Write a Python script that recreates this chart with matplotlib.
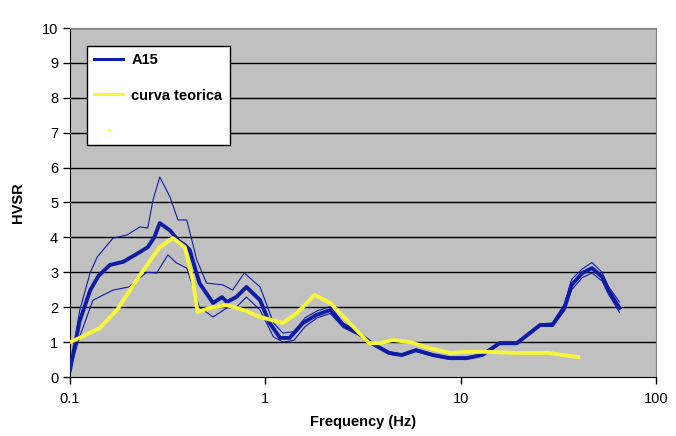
import matplotlib
matplotlib.use("Agg")
import matplotlib.pyplot as plt
from matplotlib.lines import Line2D
from matplotlib.ticker import FixedLocator, FixedFormatter, NullLocator

plt.rcParams['font.family'] = ['Liberation Sans', 'DejaVu Sans']

# curva media A15
f_media = [0.1, 0.112, 0.127, 0.14, 0.16, 0.187, 0.228, 0.25, 0.27, 0.288, 0.325, 0.36,
           0.387, 0.41, 0.46, 0.54, 0.6, 0.635, 0.71, 0.8, 0.94, 1.05, 1.19, 1.33, 1.56,
           1.83, 2.15, 2.5, 3.0, 3.5, 4.3, 5.0, 5.9, 7.2, 8.8, 10.7, 12.9, 15.8, 19.4,
           25.5, 29.5, 34, 37, 42, 47, 53, 57, 65]
hvsr_media = [0.2, 1.6, 2.49, 2.9, 3.21, 3.3, 3.58, 3.72, 4.0, 4.41, 4.2, 3.9,
              3.78, 3.64, 2.69, 2.12, 2.29, 2.15, 2.29, 2.58, 2.2, 1.55, 1.12, 1.12, 1.55,
              1.78, 1.92, 1.49, 1.25, 0.97, 0.69, 0.63, 0.77, 0.63, 0.54, 0.54, 0.63, 0.97, 0.97,
              1.49, 1.49, 1.98, 2.64, 2.98, 3.12, 2.87, 2.49, 1.98]

# limite superiore
f_sup = [0.1, 0.112, 0.127, 0.138, 0.166, 0.196, 0.228, 0.25, 0.266, 0.288, 0.325, 0.357,
         0.396, 0.446, 0.5, 0.606, 0.68, 0.78, 0.94, 1.1, 1.23, 1.4, 1.6, 1.85, 2.15, 2.5,
         3.0, 3.5, 4.3, 5.0, 5.9, 7.2, 8.8, 10.7, 12.9, 15.8, 19.4, 25.5, 29.5, 34, 37,
         42, 47, 53, 57, 65]
hvsr_sup = [0.2, 1.9, 3.0, 3.44, 3.98, 4.07, 4.3, 4.27, 5.07, 5.73, 5.16, 4.5,
            4.5, 3.35, 2.69, 2.64, 2.49, 2.98, 2.58, 1.55, 1.26, 1.3, 1.7, 1.9, 2.02, 1.55,
            1.3, 1.0, 0.72, 0.66, 0.8, 0.66, 0.57, 0.57, 0.66, 1.0, 1.0, 1.52, 1.55, 2.1, 2.8,
            3.1, 3.28, 3.0, 2.6, 2.15]

# limite inferiore
f_inf = [0.1, 0.112, 0.131, 0.166, 0.2, 0.247, 0.278, 0.317, 0.35, 0.396, 0.46, 0.54,
         0.635, 0.71, 0.8, 0.94, 1.1, 1.23, 1.4, 1.6, 1.85, 2.15, 2.5, 3.0, 3.5, 4.3, 5.0,
         5.9, 7.2, 8.8, 10.7, 12.9, 15.8, 19.4, 25.5, 29.5, 34, 37, 42, 47, 53, 57, 65]
hvsr_inf = [0.2, 1.15, 2.2, 2.49, 2.58, 3.0, 2.98, 3.5, 3.27, 3.12, 2.0, 1.72,
            1.98, 2.0, 2.29, 1.92, 1.15, 1.0, 1.05, 1.45, 1.7, 1.82, 1.42, 1.2, 0.93, 0.65, 0.6,
            0.73, 0.6, 0.51, 0.51, 0.6, 0.93, 0.93, 1.45, 1.45, 1.9, 2.5, 2.85, 2.98, 2.75, 2.38, 1.85]

# curva teorica
f_teo = [0.1, 0.112, 0.142, 0.174, 0.228, 0.288, 0.336, 0.387, 0.425, 0.45, 0.52, 0.635,
         0.77, 0.94, 1.23, 1.45, 1.79, 2.15, 2.7, 3.4, 3.85, 4.5, 5.5, 6.9, 8.8, 10.7,
         14, 19, 28, 40]
hvsr_teo = [1.0, 1.12, 1.4, 1.92, 2.92, 3.72, 3.98, 3.72, 2.78, 1.86, 1.98, 2.06,
            1.92, 1.72, 1.55, 1.83, 2.35, 2.12, 1.55, 0.97, 0.97, 1.06, 1.0, 0.83, 0.69, 0.72,
            0.72, 0.69, 0.69, 0.57]

blu = "#0F1CA6"
giallo = "#F7F73A"

fig = plt.figure(figsize=(6.76, 4.36), dpi=100)
ax = fig.add_axes([70 / 676, 59 / 436, 586 / 676, 349 / 436])
ax.set_facecolor("#C0C0C0")

for y in range(1, 11):
    ax.axhline(y, color="black", lw=1.0, zorder=1)

ax.plot(f_sup, hvsr_sup, color=blu, lw=0.8, zorder=3)
ax.plot(f_inf, hvsr_inf, color=blu, lw=0.8, zorder=3)
ax.plot(f_media, hvsr_media, color=blu, lw=2.8, zorder=4)
ax.plot(f_teo, hvsr_teo, color=giallo, lw=2.8, zorder=5)

ax.set_xscale("log")
ax.set_xlim(0.1, 100)
ax.set_ylim(0, 10)
ax.xaxis.set_major_locator(FixedLocator([0.1, 1, 10, 100]))
ax.xaxis.set_major_formatter(FixedFormatter(["0.1", "1", "10", "100"]))
ax.xaxis.set_minor_locator(NullLocator())
ax.set_yticks(range(0, 11))
ax.tick_params(axis="both", direction="out", length=5, width=1, labelsize=10.5, colors="black")
ax.tick_params(axis="x", pad=6)

for s in ["top", "right"]:
    ax.spines[s].set_color("#808080")
ax.spines["left"].set_color("black")
ax.spines["bottom"].set_color("black")

ax.set_xlabel("Frequency (Hz)", fontsize=10.5, fontweight="bold", labelpad=6)
ax.set_ylabel("HVSR", fontsize=10.5, fontweight="bold", labelpad=12)

handles = [Line2D([], [], color=blu, lw=2.2),
           Line2D([], [], color=giallo, lw=2.2),
           Line2D([], [], color=giallo, marker=".", markersize=2, linestyle="none")]
leg = ax.legend(handles, ["A15", "curva teorica", " "], loc="upper left",
                bbox_to_anchor=(0.029, 0.948), borderaxespad=0, fancybox=False,
                framealpha=1, edgecolor="black", handlelength=2.0, handletextpad=0.55,
                labelspacing=1.45, borderpad=0.5, prop={"weight": "bold", "size": 10.5})
leg.get_frame().set_linewidth(1.0)

fig.savefig("out.png", dpi=100, facecolor="white")
